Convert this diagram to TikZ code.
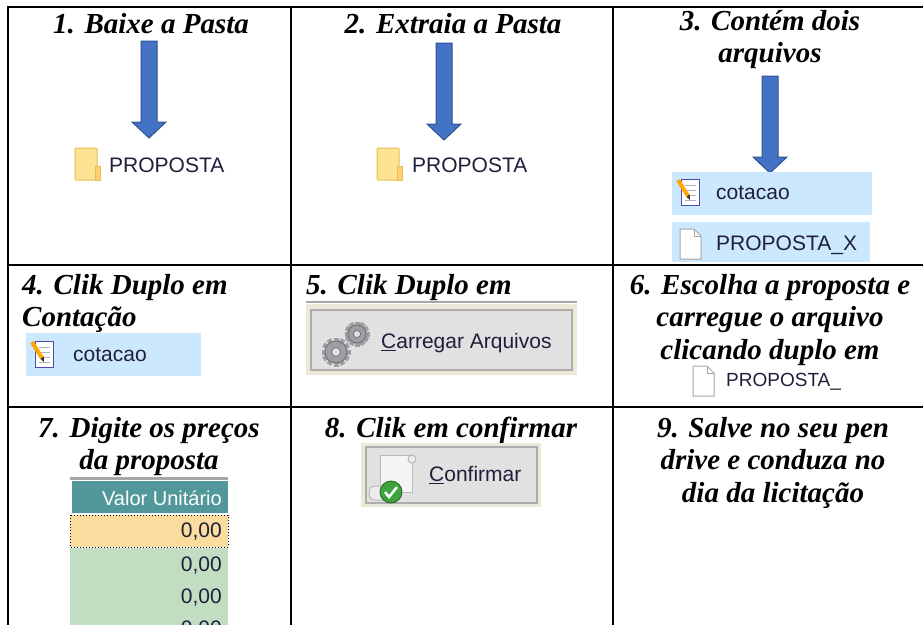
\documentclass[tikz,border=0pt]{standalone}
\usepackage{fontspec}
\setmainfont{Liberation Serif}
\setsansfont{Liberation Sans}

\definecolor{arrowblue}{HTML}{4472C4}
\definecolor{arrowedge}{HTML}{2F528F}
\definecolor{selblue}{HTML}{CCE8FF}
\definecolor{folderfill}{HTML}{FFE394}
\definecolor{folderedge}{HTML}{E8BE50}
\definecolor{btnbeige}{HTML}{ECE9D8}
\definecolor{btngrey}{HTML}{E1E1E1}
\definecolor{btnedge}{HTML}{ADADAD}
\definecolor{headteal}{HTML}{52989A}
\definecolor{cellyellow}{HTML}{F9DC9E}
\definecolor{cellgreen}{HTML}{C1DEC2}
\definecolor{shotink}{HTML}{1F1F3A}
\definecolor{gearfill}{HTML}{9C9EA2}
\definecolor{gearedge}{HTML}{5F6166}
\definecolor{okgreen}{HTML}{3DA33D}

\tikzset{
    tableline/.style = {line width=2pt, draw=black},
    steptitle/.style = {font={\fontsize{29}{32.5}\selectfont\bfseries\itshape}, align=center, inner sep=0pt},
    shottext/.style = {font={\sffamily\fontsize{21}{24}\selectfont}, text=shotink, inner sep=0pt},
    pics/bluearrow/.style = {
        code = {
        \draw [fill=arrowblue, draw=arrowedge, line width=1pt] (-8,-97) -- (8,-97) -- (8,-16) -- (17,-16) -- (0,0) -- (-17,-16) -- (-8,-16) -- cycle;
        }
    },
    pics/folder/.style = {
        code = {
        \filldraw [fill=folderfill, draw=folderedge, line width=1pt, rounded corners=1pt] (0,0) rectangle (22,32);
        \filldraw [fill=folderfill!80!orange, draw=folderedge, line width=1pt] (20,18) rectangle (25,32);
        }
    },
    pics/fileicon/.style = {
        code = {
        \filldraw [fill=white, draw=gray!70, line width=1pt] (0,0) -- (14,0) -- (21,7) -- (21,30) -- (0,30) -- cycle;
        \draw [gray!70, line width=1pt] (14,0) -- (14,7) -- (21,7);
        }
    },
    pics/notepad/.style = {
        code = {
        \filldraw [fill=white, draw=gray!60!blue, line width=1pt] (5,2) rectangle (23,28);
        \foreach \y in {8,13,18,23}
            \draw [gray!60] (9,\y) -- (20,\y);
        \draw [line width=4pt, orange!70!yellow] (2,3) -- (12,19);
        \fill [gray!40!black] (10.5,20) -- (14,23) -- (13.8,17.5) -- cycle;
        }
    },
    pics/gear/.style = {
        code = {
        \foreach \a in {0,30,...,150}
            \fill [gearfill, rotate=\a] (-2.5,-#1-3.5) rectangle (2.5,#1+3.5);
        \filldraw [fill=gearfill, draw=gearedge, line width=0.6pt] (0,0) circle (#1);
        \filldraw [fill=btngrey, draw=gearedge, line width=0.6pt] (0,0) circle (#1*0.4);
        }
    },
    pics/scroll/.style = {
        code = {
        \filldraw [fill=gray!8, draw=gray!55, line width=1pt] (12,3) rectangle (44,40);
        \filldraw [fill=gray!15, draw=gray!55, line width=1pt] (44,7) circle (4);
        \filldraw [fill=gray!15, draw=gray!55, line width=1pt, rounded corners=5pt] (1,34) rectangle (30,48);
        \filldraw [fill=okgreen, draw=okgreen!60!black, line width=0.8pt] (23,40) circle (11);
        \draw [white, line width=2.5pt] (17,40) -- (21,45) -- (29,35);
        }
    }
}

\begin{document}
\begin{tikzpicture}[x=1pt, y=-1pt]
    \useasboundingbox (0,0) rectangle (923,624);
    \clip (0,0) rectangle (923,624);

    % table
    \draw [tableline] (7,7) -- (930,7);
    \draw [tableline] (7,265) -- (930,265);
    \draw [tableline] (7,407) -- (930,407);
    \draw [tableline] (8,6) -- (8,630);
    \draw [tableline] (291,6) -- (291,630);
    \draw [tableline] (613,6) -- (613,630);

    % row 1
    \node [steptitle, anchor=north] (T1) at (151,13) {1. Baixe a Pasta};
    \path pic at (149,138) {bluearrow};
    \path pic at (75,148) {folder};
    \node [shottext, anchor=west] (F1) at (109,165) {PROPOSTA};

    \node [steptitle, anchor=north] (T2) at (453,13) {2. Extraia a Pasta};
    \path pic at (444,140) {bluearrow};
    \path pic at (377,148) {folder};
    \node [shottext, anchor=west] (F2) at (412,165) {PROPOSTA};

    \node [steptitle, anchor=north] (T3) at (770,10) {3. Contém dois\\arquivos};
    \path pic at (770,173) {bluearrow};
    \fill [selblue] (672,172) rectangle (872,215);
    \path pic at (676,177) {notepad};
    \node [shottext, anchor=west] (C3) at (716,193) {cotacao};
    \fill [selblue] (672,222) rectangle (870,262);
    \path pic at (680,229) {fileicon};
    \node [shottext, anchor=west] (P3) at (716,245) {PROPOSTA\_X};

    % row 2
    \node [steptitle, anchor=north west, align=left] (T4) at (22,274) {4. Clik Duplo em\\Contação};
    \fill [selblue] (26,333) rectangle (201,376);
    \path pic at (30,339) {notepad};
    \node [shottext, anchor=west] (C4) at (73,355) {cotacao};

    \node [steptitle, anchor=north west] (T5) at (306,274) {5. Clik Duplo em};
    \draw [gray!70, line width=2pt] (306,302) -- (577,302);
    \fill [btnbeige] (306,304) rectangle (577,375);
    \filldraw [fill=btngrey, draw=btnedge, line width=1.5pt] (311,310) rectangle (572,370);
    \path pic at (336,352) {gear=11};
    \path pic at (357,334) {gear=9};
    \node [shottext, anchor=west] (B5) at (381,343) {\underline{C}arregar Arquivos};

    \node [steptitle, anchor=north] (T6) at (770,274) {6. Escolha a proposta e\\carregue o arquivo\\clicando duplo em};
    \path pic at (693,366) {fileicon};
    \node [shottext, anchor=west, font={\sffamily\fontsize{19}{22}\selectfont}] (P6) at (726,382) {PROPOSTA\_};

    % row 3
    \node [steptitle, anchor=north] (T7) at (149,417) {7. Digite os preços\\da proposta};
    \draw [gray!70, line width=3pt] (70,478) -- (228,478);
    \fill [headteal] (72,481) rectangle (228,513);
    \node [shottext, anchor=east, text=white, font={\sffamily\fontsize{20}{24}\selectfont}] (H7) at (222,498) {Valor Unitário};
    \filldraw [fill=cellyellow, draw=black, dotted, line width=1pt] (70,515) rectangle (228,547);
    \fill [cellgreen] (70,548) rectangle (228,630);
    \foreach \y/\n in {532/V1, 566/V2, 598/V3, 630/V4}
        \node [shottext, anchor=east] (\n) at (222,\y) {0,00};

    \node [steptitle, anchor=north] (T8) at (451,417) {8. Clik em confirmar};
    \fill [btnbeige] (361,443) rectangle (541,507);
    \filldraw [fill=btngrey, draw=btnedge, line width=1.5pt] (366,447) rectangle (537,503);
    \path pic at (368,452) {scroll};
    \node [shottext, anchor=west] (B8) at (429,475) {\underline{C}onfirmar};

    \node [steptitle, anchor=north] (T9) at (773,417) {9. Salve no seu pen\\drive e conduza no\\dia da licitação};

\end{tikzpicture}
\end{document}
